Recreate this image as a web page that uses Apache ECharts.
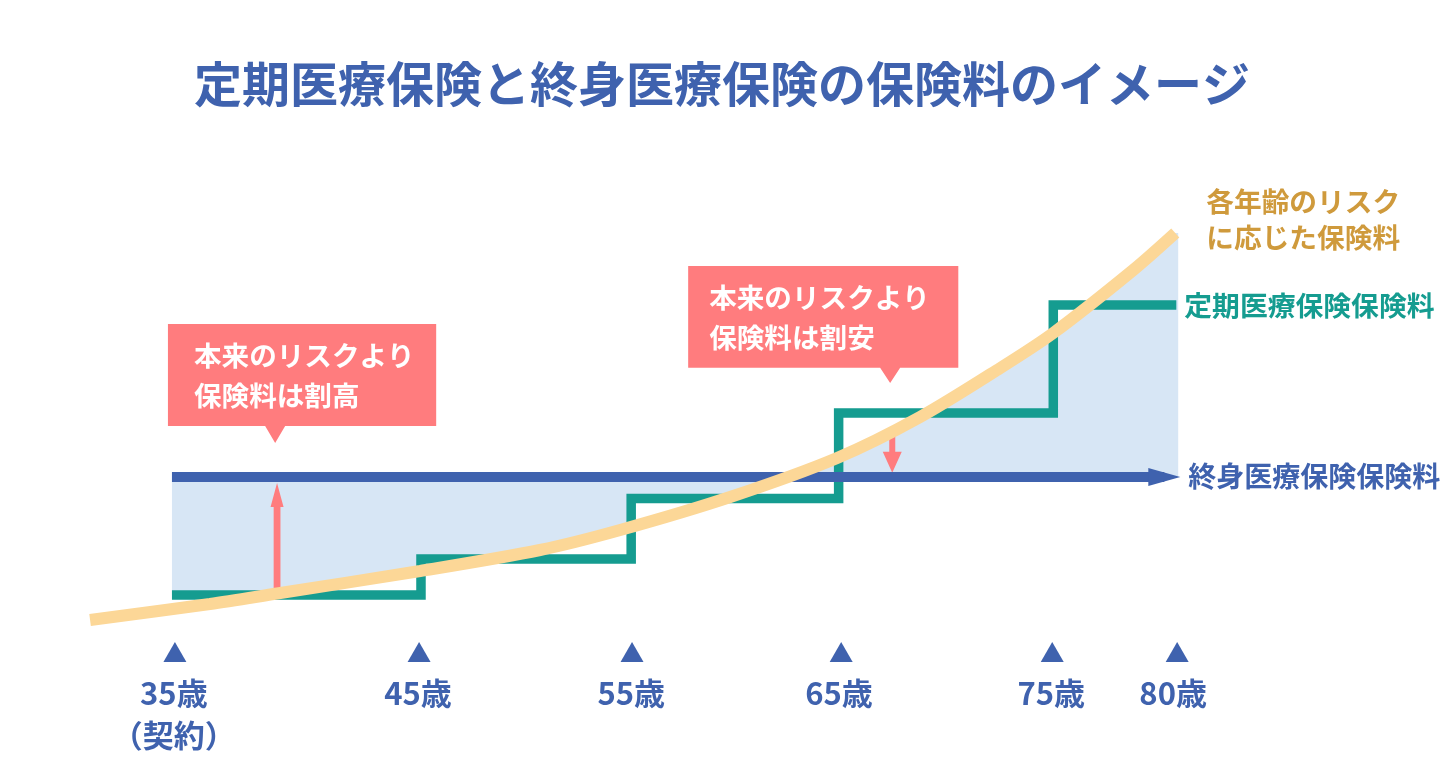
<!DOCTYPE html>
<html lang="ja">
<head>
<meta charset="utf-8">
<title>定期医療保険と終身医療保険の保険料のイメージ</title>
<style>
  html, body { margin: 0; padding: 0; background: #fff; }
  #main { width: 1444px; height: 780px; }
</style>
</head>
<body>
<div id="main"></div>
<script src="https://cdn.jsdelivr.net/npm/echarts@6/dist/echarts.min.js"></script>
<script>
// The x axis is "age", the y axis is premium in arbitrary units.
var titleText = '定期医療保険と終身医療保険の保険料のイメージ';

var tickAges = [33.43, 45, 55.09, 65, 75, 80.92];
var labelAges = [33.38, 44.95, 55.05, 64.9, 74.95, 80.73];
var tickLabels = ['35歳\n（契約）', '45歳', '55歳', '65歳', '75歳', '80歳'];

// risk-based premium curve
var riskAges = [29.41, 35.09, 38.27, 45.05, 50.73, 54.53, 59.74, 64.81, 68.74, 72.54, 75.05, 78.84, 80.83];
var riskValues = [4, 7.2, 9.3, 13.8, 18, 22, 28.6, 36.4, 44.6, 54.4, 61.4, 74, 81.4];

// term insurance, renewed in steps
var termAges = [33.29, 45.09, 55.05, 64.88, 75.05, 80.88];
var termValues = [9, 16.2, 28.3, 45.4, 67, 67];

// whole life insurance, flat
var wholeAges = [33.29, 80.31];
var wholeValues = [32.6, 32.6];

// lower edge of the shaded band before the curve crosses the flat premium
var overAges = [33.29, 37.8, 38.27, 45.05, 45.09, 48.4, 50.73, 54.53, 55.05, 55.05, 59.5, 59.74, 62.5];
var overFloor = [9, 9, 9.3, 13.8, 16.2, 16.2, 18, 22, 22.6, 28.3, 28.3, 28.6, 32.6];
// upper edge of the shaded band after the crossing
var underAges = [62.5, 64.81, 68.74, 72.54, 75.05, 78.84, 80.83, 80.97];
var underCeil = [32.6, 36.4, 44.6, 54.4, 61.4, 74, 81.4, 81.4];

var arrowAges = [38.27, 67.42];
var arrowFrom = [9.6, 41.4];
var arrowTo = [31.4, 33.46];

var calloutLeft = [33.1, 57.75];
var calloutRight = [45.81, 70.55];
var calloutTop = [63.2, 74.8];
var calloutBottom = [42.8, 54.46];
var calloutTipAge = [38.18, 67.32];
var calloutTipValue = [39.4, 51.4];
var calloutTexts = ['本来のリスクより\n保険料は割高', '本来のリスクより\n保険料は割安'];

var riskName = '各年齢のリスク\nに応じた保険料';
var termName = '定期医療保険保険料';
var wholeName = '終身医療保険保険料';

var BLUE = '#3f62ae';
var TEAL = '#159c90';
var CREAM = '#fcd797';
var RED = '#ff7c7e';
var GOLD = '#cf9a3c';
var SHADE = '#d7e6f5';
var FONT = '"Noto Sans CJK JP", "Noto Sans", sans-serif';

function pairs(xs, ys) {
  return xs.map(function (x, i) { return [x, ys[i]]; });
}

// polygon between the flat level and an edge
function bandItem(params, api) {
  var level = wholeValues[0];
  var over = params.dataIndex === 0;
  var edge = over ? pairs(overAges, overFloor) : pairs(underAges, underCeil);
  var points = edge.map(function (p) { return api.coord(p); });
  if (over) points.unshift(api.coord([edge[0][0], level]));
  points.push(api.coord([edge[edge.length - 1][0], level]));
  return { type: 'polygon', shape: { points: points }, style: { fill: SHADE } };
}

function arrowItem(params, api) {
  var up = params.dataIndex === 0;
  var from = api.coord([api.value(0), api.value(1)]);
  var to = api.coord([api.value(0), api.value(2)]);
  var dir = to[1] < from[1] ? 1 : -1;
  var headLen = up ? 24 : 21;
  var headW = up ? 6.5 : 9.5;
  var shaft = up ? 3.4 : 3;
  return {
    type: 'polygon',
    shape: {
      points: [
        [from[0] - shaft, from[1]],
        [from[0] - shaft, to[1] + dir * headLen],
        [from[0] - headW, to[1] + dir * headLen],
        [to[0], to[1]],
        [from[0] + headW, to[1] + dir * headLen],
        [from[0] + shaft, to[1] + dir * headLen],
        [from[0] + shaft, from[1]]
      ]
    },
    style: { fill: RED }
  };
}

function calloutItem(params, api) {
  var i = params.dataIndex;
  var tl = api.coord([calloutLeft[i], calloutTop[i]]);
  var br = api.coord([calloutRight[i], calloutBottom[i]]);
  var tip = api.coord([calloutTipAge[i], calloutTipValue[i]]);
  return {
    type: 'group',
    children: [
      {
        type: 'polygon',
        shape: {
          points: [
            [tl[0], tl[1]], [br[0], tl[1]], [br[0], br[1]],
            [tip[0] + 10, br[1]], tip, [tip[0] - 10, br[1]], [tl[0], br[1]]
          ]
        },
        style: { fill: RED }
      },
      {
        type: 'text',
        style: {
          x: tl[0] + (i === 0 ? 26 : 21),
          y: (tl[1] + br[1]) / 2 + 1,
          text: calloutTexts[i],
          fill: '#fff',
          font: 'bold 27.6px ' + FONT,
          lineHeight: 40,
          align: 'left',
          verticalAlign: 'middle'
        }
      }
    ]
  };
}

var chart = echarts.init(document.getElementById('main'), null, { renderer: 'canvas' });

chart.setOption({
  animation: false,
  backgroundColor: '#fff',
  title: {
    text: titleText,
    left: 'center',
    top: 55,
    textStyle: { color: BLUE, fontSize: 48, fontWeight: 'bold', fontFamily: FONT }
  },
  grid: { left: 18.1, right: 33, top: 140, bottom: 108 },
  xAxis: {
    type: 'value',
    min: 26,
    max: 92,
    axisLine: { show: false },
    axisTick: { show: false },
    splitLine: { show: false },
    axisLabel: {
      customValues: labelAges,
      margin: 0,
      color: BLUE,
      fontSize: 31,
      fontWeight: 'bold',
      fontFamily: FONT,
      lineHeight: 42,
      formatter: function (value) {
        return tickLabels[labelAges.indexOf(value)];
      }
    }
  },
  yAxis: {
    type: 'value',
    min: -6.4,
    max: 100,
    show: false
  },
  series: [
    {
      name: 'shade',
      type: 'custom',
      coordinateSystem: 'cartesian2d',
      silent: true,
      z: 1,
      clip: false,
      data: [[0], [1]],
      encode: { x: -1, y: -1 },
      renderItem: bandItem
    },
    {
      name: 'arrows',
      type: 'custom',
      coordinateSystem: 'cartesian2d',
      silent: true,
      z: 2,
      data: arrowAges.map(function (a, i) { return [a, arrowFrom[i], arrowTo[i]]; }),
      renderItem: arrowItem
    },
    {
      name: termName,
      type: 'line',
      step: 'end',
      z: 3,
      showSymbol: false,
      clip: false,
      data: pairs(termAges, termValues),
      lineStyle: { color: TEAL, width: 9.5, join: 'miter', cap: 'butt' },
      endLabel: {
        show: true,
        formatter: termName,
        distance: 8,
        color: TEAL,
        fontSize: 27.8,
        fontWeight: 'bold',
        fontFamily: FONT
      }
    },
    {
      name: wholeName,
      type: 'line',
      z: 4,
      clip: false,
      showAllSymbol: true,
      data: [
        { value: [wholeAges[0], wholeValues[0]], symbol: 'none' },
        { value: [wholeAges[1], wholeValues[1]], symbol: 'triangle', symbolSize: [18, 32], symbolRotate: -90 }
      ],
      itemStyle: { color: BLUE },
      lineStyle: { color: BLUE, width: 10, cap: 'butt' },
      endLabel: {
        show: true,
        formatter: wholeName,
        distance: 24,
        offset: [0, -1],
        color: BLUE,
        fontSize: 28,
        fontWeight: 'bold',
        fontFamily: FONT
      }
    },
    {
      name: riskName,
      type: 'line',
      z: 5,
      smooth: 0.3,
      showSymbol: false,
      clip: false,
      data: pairs(riskAges, riskValues),
      lineStyle: { color: CREAM, width: 12, cap: 'butt' },
      endLabel: {
        show: true,
        formatter: riskName,
        distance: 31,
        offset: [0, -14],
        align: 'left',
        color: GOLD,
        fontSize: 27.7,
        lineHeight: 36,
        fontWeight: 'bold',
        fontFamily: FONT
      }
    },
    {
      name: 'callouts',
      type: 'custom',
      coordinateSystem: 'cartesian2d',
      silent: true,
      z: 6,
      clip: false,
      data: calloutLeft.map(function (l, i) { return [l, calloutTop[i]]; }),
      renderItem: calloutItem
    },
    {
      name: 'ticks',
      type: 'scatter',
      z: 6,
      clip: false,
      symbol: 'triangle',
      symbolSize: [23, 20],
      itemStyle: { color: BLUE, opacity: 1 },
      data: tickAges.map(function (a) { return [a, -2.4]; })
    }
  ]
});
</script>
</body>
</html>
